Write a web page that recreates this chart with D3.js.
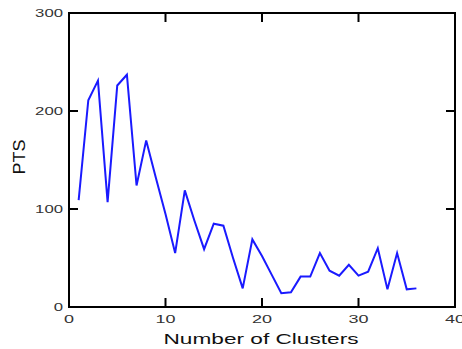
<!DOCTYPE html>
<html><head><meta charset="utf-8">
<script src="https://cdn.jsdelivr.net/npm/d3@7"></script>
<style>html,body{margin:0;padding:0;background:#fff;}svg{display:block;}</style>
</head><body>
<svg id="c" width="462" height="349"></svg>
<script>
const clusters = [1,2,3,4,5,6,7,8,9,10,11,12,13,14,15,16,17,18,19,20,21,22,23,24,25,26,27,28,29,30,31,32,33,34,35,36];
const pts = [109,211,231,107,226,237,124,170,132,95,55,119,88,59,85,83,50,19,69,52,33,14,15,31,31,55,37,32,43,32,36,60,18,55,18,19];
const xTicks = [0,10,20,30,40];
const yTicks = [0,100,200,300];
const xLabel = "Number of Clusters";
const yLabel = "PTS";

const svg = d3.select("#c");
const L = 69, R = 455, T = 13, B = 307;
const x = d3.scaleLinear().domain([0,40]).range([L,R]);
const y = d3.scaleLinear().domain([0,300]).range([B,T]);
const tl = 9;
const font = "Liberation Sans, Arial, sans-serif";

// frame
svg.append("rect").attr("x",L).attr("y",T).attr("width",R-L).attr("height",B-T)
  .attr("fill","none").attr("stroke","#000").attr("stroke-width",2);

// ticks
const g = svg.append("g").attr("stroke","#000").attr("stroke-width",2);
xTicks.forEach(t=>{
  g.append("line").attr("x1",x(t)).attr("x2",x(t)).attr("y1",B).attr("y2",B-tl);
  g.append("line").attr("x1",x(t)).attr("x2",x(t)).attr("y1",T).attr("y2",T+tl);
});
yTicks.forEach(t=>{
  g.append("line").attr("x1",L).attr("x2",L+tl).attr("y1",y(t)).attr("y2",y(t));
  g.append("line").attr("x1",R).attr("x2",R-tl).attr("y1",y(t)).attr("y2",y(t));
});

// tick labels
xTicks.forEach(t=>{
  const s = String(t);
  svg.append("text").attr("x",x(t)).attr("y",323).attr("text-anchor","middle")
    .attr("font-family",font).attr("font-size",10).attr("fill","#333")
    .attr("textLength", s.length*10).attr("lengthAdjust","spacingAndGlyphs").text(s);
});
yTicks.forEach(t=>{
  const s = String(t);
  svg.append("text").attr("x",63).attr("y",y(t)+3.5).attr("text-anchor","end")
    .attr("font-family",font).attr("font-size",10).attr("fill","#333")
    .attr("textLength", s.length*9.3).attr("lengthAdjust","spacingAndGlyphs").text(s);
});

// axis titles
svg.append("text").attr("x",261).attr("y",344).attr("text-anchor","middle")
  .attr("font-family",font).attr("font-size",15).attr("fill","#111")
  .attr("textLength",195).attr("lengthAdjust","spacingAndGlyphs").text(xLabel);
svg.append("text").attr("transform","translate(25,157) rotate(-90)").attr("text-anchor","middle")
  .attr("font-family",font).attr("font-size",17).attr("fill","#111")
  .attr("textLength",35).attr("lengthAdjust","spacingAndGlyphs").text(yLabel);

// line
const line = d3.line().x((d,i)=>x(clusters[i])).y(d=>y(d));
svg.append("path").datum(pts).attr("d",line).attr("fill","none")
  .attr("stroke","#1a1aff").attr("stroke-width",2).attr("stroke-linejoin","miter");
</script>
</body></html>
